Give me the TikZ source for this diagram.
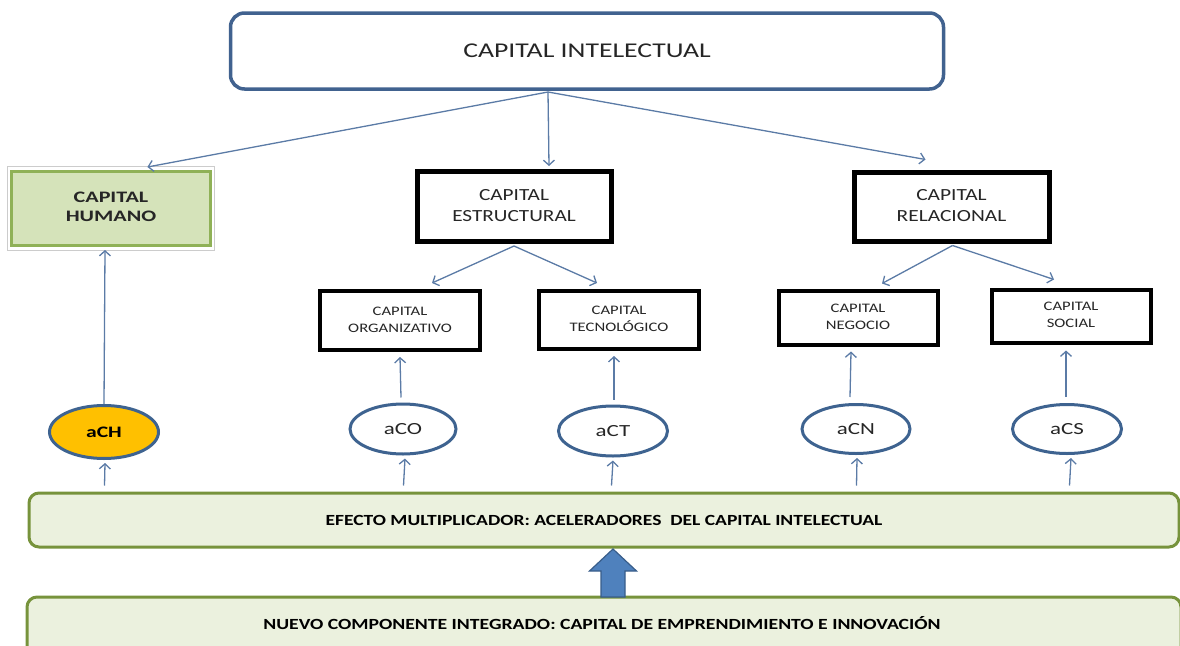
\documentclass[tikz,border=0pt]{standalone}
\usepackage{fontspec}
\usepackage{graphicx}
\setmainfont{Carlito}
\usetikzlibrary{arrows.meta,calc,shapes.geometric}
\definecolor{topblue}{HTML}{41628F}
\definecolor{linkblue}{HTML}{5B7BA6}
\definecolor{ellblue}{HTML}{3E6390}
\definecolor{barfill}{HTML}{EBF1DE}
\definecolor{bardraw}{HTML}{77933C}
\definecolor{humfill}{HTML}{D5E3BA}
\definecolor{humdraw}{HTML}{8FB157}
\definecolor{gold}{HTML}{FFC000}
\definecolor{txt}{HTML}{262626}
\definecolor{barrowfill}{HTML}{4F81BD}
\definecolor{barrowdraw}{HTML}{385D8A}
\newcommand\hstretch[2][1.28]{\scalebox{#1}[1]{#2}}
\newcommand\twolines[2]{\begin{tabular}{@{}c@{}}#1\\#2\end{tabular}}
\tikzset{
  link/.style={draw=linkblue, line width=1.3pt, -{Straight Barb[length=5pt,width=11pt]}},
  bigbox/.style={draw=black, line width=5pt, fill=white, text=txt, align=center, font=\fontsize{17}{21}\selectfont, inner sep=0pt},
  smallbox/.style={draw=black, line width=4pt, fill=white, text=txt, align=center, font=\fontsize{13}{17}\selectfont, inner sep=0pt},
  accel/.style={ellipse, draw=ellblue, line width=3pt, fill=white, text=txt, inner sep=0pt, font=\fontsize{17}{20}\selectfont},
  bar/.style={draw=bardraw, line width=3pt, fill=barfill, rounded corners=10pt, text=black, font=\bfseries\fontsize{15.5}{18}\selectfont, inner sep=0pt}
}
\begin{document}
\begin{tikzpicture}[x=1pt,y=-1pt]
\useasboundingbox (0,0) rectangle (1180,645);
% top
\node[draw=topblue, line width=3.5pt, rounded corners=14pt, fill=white, minimum width=713pt, minimum height=76pt, text=txt, font=\fontsize{21}{24}\selectfont, inner sep=0pt] (ci) at (587,51) {\hstretch[1.32]{CAPITAL INTELECTUAL}};
% level 1
\draw[gray!40, line width=0.8pt] (7.5,166.5) rectangle (214.5,250.5);
\node[draw=humdraw, line width=3pt, fill=humfill, minimum width=199pt, minimum height=74pt, align=center, text=txt, font=\bfseries\fontsize{16}{19}\selectfont, inner sep=0pt] (ch) at (111,208.5) {\hstretch[1.38]{\twolines{CAPITAL}{HUMANO}}};
\node[bigbox, minimum width=194pt, minimum height=70pt] (ce) at (514,206.5) {\hstretch[1.25]{\twolines{CAPITAL}{ESTRUCTURAL}}};
\node[bigbox, minimum width=195pt, minimum height=69pt] (cr) at (951.5,206.5) {\hstretch[1.26]{\twolines{CAPITAL}{RELACIONAL}}};
% level 2
\node[smallbox, minimum width=160pt, minimum height=59pt] (co) at (400,320.5) {\hstretch{\twolines{CAPITAL}{ORGANIZATIVO}}};
\node[smallbox, minimum width=160pt, minimum height=58pt] (ct) at (619,320) {\hstretch{\twolines{CAPITAL}{TECNOLÓGICO}}};
\node[smallbox, minimum width=159pt, minimum height=54pt] (cn) at (858,317.5) {\hstretch{\twolines{CAPITAL}{NEGOCIO}}};
\node[smallbox, minimum width=159pt, minimum height=53pt] (cs) at (1071,316) {\hstretch{\twolines{CAPITAL}{SOCIAL}}};
% accelerators
\node[accel, fill=gold, text=black, font=\bfseries\fontsize{16}{18}\selectfont, minimum width=109pt, minimum height=53pt] (ach) at (104,432) {\hstretch[1.35]{aCH}};
\node[accel, minimum width=106pt, minimum height=50pt] (aco) at (403,429) {\hstretch[1.35]{aCO}};
\node[accel, minimum width=109pt, minimum height=50pt] (act) at (613,431) {\hstretch[1.35]{aCT}};
\node[accel, minimum width=108pt, minimum height=49pt] (acn) at (856,429) {\raisebox{-4pt}{\hstretch[1.35]{aCN}}};
\node[accel, minimum width=109pt, minimum height=49pt] (acs) at (1067,429) {\hstretch[1.35]{aCS}};
% bars
\node[bar, minimum width=1150pt, minimum height=54pt] (b1) at (604,520) {\hstretch[1.26]{EFECTO MULTIPLICADOR: ACELERADORES\ \ DEL CAPITAL INTELECTUAL}};
\draw[draw=bardraw, line width=3pt, fill=barfill, rounded corners=10pt] (27,665) -- (27,597) -- (1181,597) -- (1181,665);
\node[font=\bfseries\fontsize{15.5}{18}\selectfont, text=black, inner sep=0pt] (b2) at (602,623) {\hstretch[1.27]{NUEVO COMPONENTE INTEGRADO: CAPITAL DE EMPRENDIMIENTO E INNOVACIÓN}};
% block arrow
\draw[draw=barrowdraw, line width=1.2pt, fill=barrowfill, line join=miter]
  (601,597) -- (601,571) -- (589.5,571) -- (613,549) -- (636.5,571) -- (625,571) -- (625,597) -- cycle;
% links top
\coordinate (src) at (548,92);
\draw[link] (src) -- ($(ch.north west)!0.68!(ch.north east)+(0,-3)$);
\draw[link] (src) -- ($(ce.north)+(35,-3)$);
\draw[link] (src) -- ($(cr.north west)!0.37!(cr.north east)+(0,-10)$);
% links level 2
\draw[link] ($(ce.south)+(0,2)$) -- ($(co.north)+(32,-6)$);
\draw[link] ($(ce.south)+(0,2)$) -- ($(ct.north)+(-22,-6)$);
\draw[link] ($(cr.south)+(1,2)$) -- ($(cn.north)+(24,-5)$);
\draw[link] ($(cr.south)+(1,2)$) -- ($(cs.north)+(-17,-8)$);
% accel to boxes
\draw[link] (ach.north) -- ($(ch.south)+(-6,3)$);
\draw[link] ($(aco.north)+(-2,-5)$) -- ($(co.south)+(0,5)$);
\draw[link] ($(act.north)+(1,-5)$) -- ($(ct.south)+(-5,5)$);
\draw[link] ($(acn.north)+(-6,-6)$) -- ($(cn.south)+(-7,5)$);
\draw[link] ($(acs.north)+(-1,-6)$) -- ($(cs.south)+(-5,6)$);
% bar to accel
\draw[link] ($(b1.north west)+(77,-6)$) -- ($(ach.south)+(1,3)$);
\draw[link] ($(b1.north west)+(376,-6)$) -- ($(aco.south)+(2,3)$);
\draw[link] ($(b1.north west)+(584,-6)$) -- ($(act.south)+(0,3)$);
\draw[link] ($(b1.north west)+(829,-6)$) -- ($(acn.south)+(1,3)$);
\draw[link] ($(b1.north west)+(1042,-6)$) -- ($(acs.south)+(4,3)$);
\end{tikzpicture}
\end{document}
